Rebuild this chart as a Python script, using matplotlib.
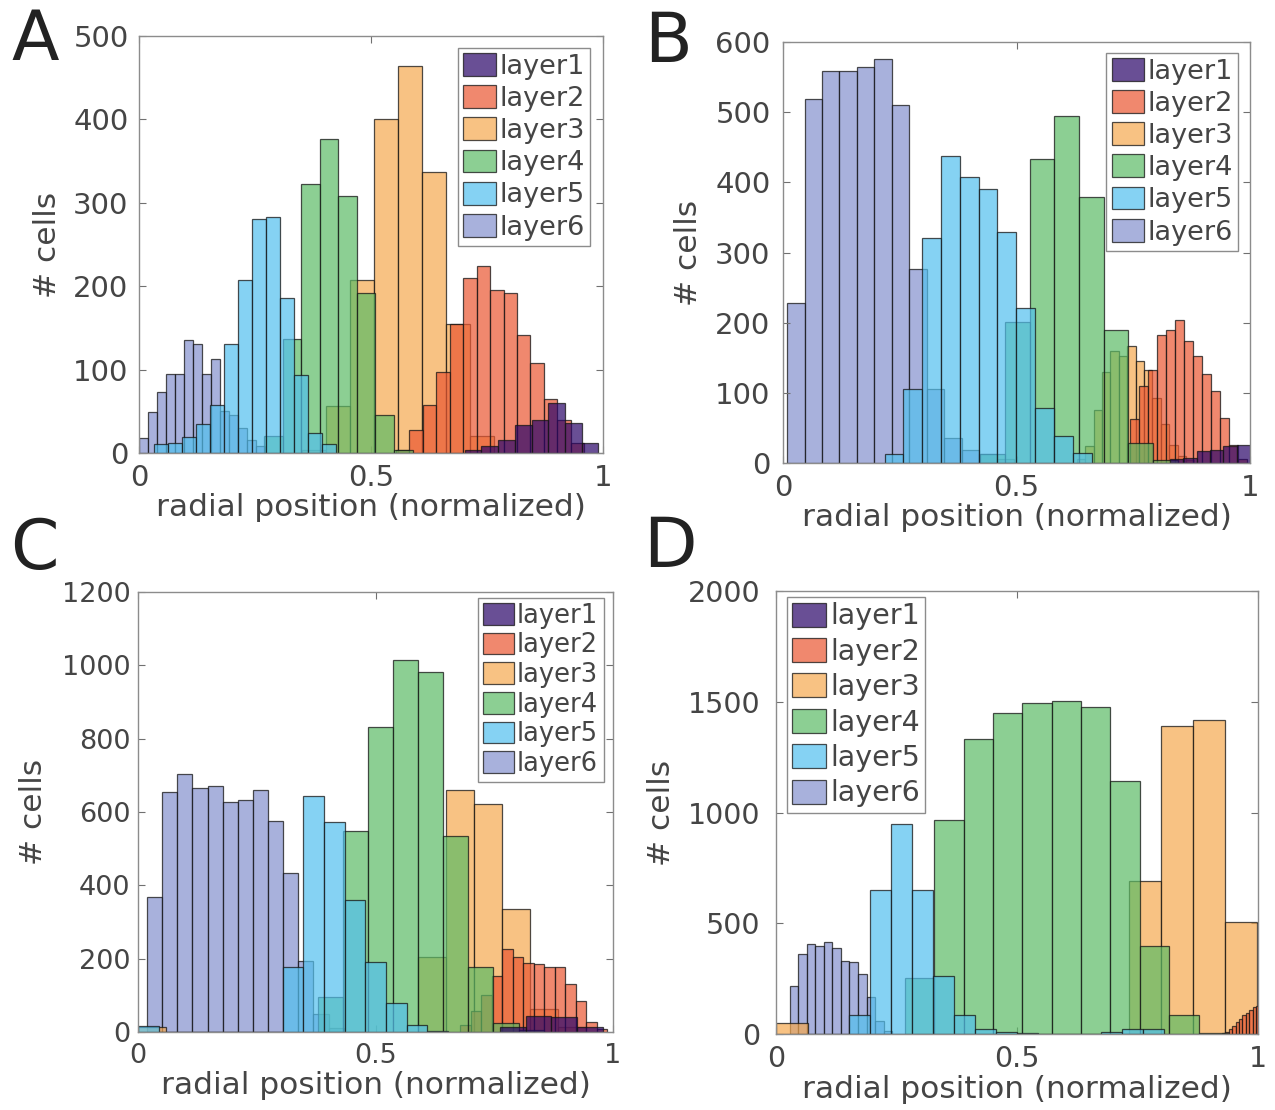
import numpy as np
import matplotlib
matplotlib.use("Agg")
import matplotlib.pyplot as plt
from matplotlib.patches import Patch

layers = ["layer1", "layer2", "layer3", "layer4", "layer5", "layer6"]
face_colors = ["#2a0469", "#ea5631", "#f6a84e", "#5bbb65", "#52c0ee", "#8491ce"]
# stacking order of the layers (higher = drawn on top)
layer_z = [6, 3, 2, 4, 5, 1]

# ---------------- Panel A ----------------
A_L1 = [4, 8, 15, 34, 39, 60, 36, 12]
A_L2 = [3, 27, 58, 97, 155, 210, 224, 195, 192, 142, 108, 65, 40, 12]
A_L3 = [3, 56, 207, 401, 464, 337, 155, 20]
A_L4 = [20, 137, 322, 377, 308, 192, 46, 3]
A_L5 = [11, 12, 19, 35, 58, 131, 207, 281, 283, 186, 94, 24, 11]
A_L6 = [18, 49, 73, 95, 95, 135, 131, 95, 113, 50, 45, 30, 15, 8]
A_start = [0.702, 0.5536, 0.3508, 0.2696, 0.0316, 0.0]
A_width = [0.036, 0.029, 0.0518, 0.040, 0.0302, 0.0194]

# ---------------- Panel B ----------------
B_L1 = [5, 7, 17, 19, 24, 25]
B_L2 = [62, 110, 133, 183, 190, 204, 174, 153, 127, 102, 64, 26, 5]
B_L3 = [5, 24, 76, 129, 160, 152, 167, 146, 133, 93, 55, 25, 10, 4]
B_L4 = [13, 201, 433, 495, 379, 190, 29, 4]
B_L5 = [13, 105, 321, 438, 408, 390, 329, 221, 79, 38, 14]
B_L6 = [228, 519, 559, 559, 564, 576, 510, 276, 105, 36, 19, 13, 5]
B_start = [0.829, 0.743, 0.629, 0.4229, 0.2175, 0.0086]
B_width = [0.0285, 0.0193, 0.018, 0.0528, 0.0403, 0.03745]

# ---------------- Panel C ----------------
C_L1 = [15, 45, 41, 14]
C_L2 = [18, 56, 100, 154, 226, 204, 187, 186, 176, 176, 131, 84, 27, 9]
C_L3 = [15, 0, 0, 0, 0, 0, 0, 0, 0, 0, 204, 661, 622, 335, 63, 15]
C_L4 = [95, 547, 831, 1014, 982, 534, 176, 25, 5]
C_L5 = [16, 0, 0, 0, 0, 0, 0, 176, 643, 573, 360, 192, 79, 18, 3]
C_L6 = [367, 654, 704, 665, 671, 627, 633, 661, 575, 433, 195, 50, 10]
C_start = [0.7625, 0.678, 0.0, 0.3795, 0.0, 0.019]
C_width = [0.054, 0.0221, 0.059, 0.0527, 0.0435, 0.03184]

# ---------------- Panel D ----------------
D_L1 = []
D_L2 = [4, 10, 22, 38, 55, 68, 84, 97, 110, 121, 128]
D_L3 = [50, 0, 0, 0, 0, 0, 0, 0, 0, 0, 0, 690, 1389, 1417, 505]
D_L4 = [255, 968, 1332, 1451, 1496, 1503, 1476, 1144, 397, 85, 6]
D_L5 = [85, 649, 950, 649, 263, 85, 21, 7, 3, 0, 0, 0, 8, 21, 21]
D_L6 = [218, 362, 407, 397, 416, 389, 330, 325, 270, 166, 60, 15]
D_start = [0.93, 0.9246, 0.0, 0.2676, 0.1515, 0.029]
D_width = [0.007, 0.0072, 0.0665, 0.0609, 0.0436, 0.01764]

y_limits = [500, 600, 1200, 2000]
y_ticks = [[0, 100, 200, 300, 400, 500],
           [0, 100, 200, 300, 400, 500, 600],
           [0, 200, 400, 600, 800, 1000, 1200],
           [0, 500, 1000, 1500, 2000]]
x_ticks = [0, 0.5, 1]
x_ticklabels = ["0", "0.5", "1"]
panel_letters = ["A", "B", "C", "D"]

panels = [
    ([A_L1, A_L2, A_L3, A_L4, A_L5, A_L6], A_start, A_width),
    ([B_L1, B_L2, B_L3, B_L4, B_L5, B_L6], B_start, B_width),
    ([C_L1, C_L2, C_L3, C_L4, C_L5, C_L6], C_start, C_width),
    ([D_L1, D_L2, D_L3, D_L4, D_L5, D_L6], D_start, D_width),
]

# layout
W, H = 1275, 1110
axes_px = [(139, 36, 603, 453), (783, 42, 1250, 463), (138, 592, 613, 1032), (776, 591, 1258, 1034)]
legend_anchor = [("upper right", (0.972, 0.972)), ("upper right", (0.975, 0.975)),
                 ("upper right", (0.98, 0.987)), ("upper left", (0.022, 0.987))]
legend_font = [19.5, 19.5, 18.5, 20.5]
legend_spacing = [0.2, 0.2, 0.14, 0.26]
tick_font = [21, 21, 19.5, 20.5]
ytick_pad = [7.5, 9, 5.5, 11]
ylabel_pad = [8, 9, 10, 9]
letter_pos = [(35, 40), (668, 42), (34, 550), (670, 547)]

fig = plt.figure(figsize=(W / 100, H / 100), dpi=100)
FACE_ALPHA = 0.7
edge_rgba = (0.08, 0.08, 0.08, 0.75)
text_col = "#454545"

for i, (counts_list, starts, widths) in enumerate(panels):
    l, t, r, b = axes_px[i]
    ax = fig.add_axes([l / W, 1 - b / H, (r - l) / W, (b - t) / H])
    for k in range(len(counts_list)):
        counts = np.asarray(counts_list[k], dtype=float)
        if counts.size == 0:
            continue
        lefts = starts[k] + widths[k] * np.arange(counts.size)
        col = matplotlib.colors.to_rgba(face_colors[k], FACE_ALPHA)
        ax.bar(lefts, counts, width=widths[k], align="edge", color=col,
               edgecolor=edge_rgba, linewidth=0.9, zorder=layer_z[k])
    ax.set_xlim(0, 1)
    ax.set_ylim(0, y_limits[i])
    ax.set_xticks(x_ticks)
    ax.set_xticklabels(x_ticklabels)
    ax.set_yticks(y_ticks[i])
    ax.tick_params(direction="in", top=True, right=True, length=5, width=0.8,
                   color="#707070", labelsize=tick_font[i], labelcolor=text_col)
    ax.tick_params(axis="x", pad=8)
    ax.tick_params(axis="y", pad=ytick_pad[i])
    for s in ax.spines.values():
        s.set_color("#8c8c8c")
        s.set_linewidth(1.0)
        s.set_zorder(10)
    ax.set_xlabel("radial position (normalized)", fontsize=22.5, color=text_col, labelpad=1)
    ax.set_ylabel("# cells", fontsize=22.5, color=text_col, labelpad=ylabel_pad[i])

    handles = [Patch(facecolor=matplotlib.colors.to_rgba(c, FACE_ALPHA), edgecolor=edge_rgba,
                     linewidth=0.9, label=lab) for c, lab in zip(face_colors, layers)]
    loc, anchor = legend_anchor[i]
    leg = ax.legend(handles=handles, loc=loc, bbox_to_anchor=anchor, fontsize=legend_font[i],
                    frameon=True, fancybox=False, framealpha=1, edgecolor="#8c8c8c",
                    handlelength=1.2, handleheight=0.92, handletextpad=0.12,
                    labelspacing=legend_spacing[i], borderpad=0.2, borderaxespad=0.0)
    leg.set_zorder(20)
    leg.get_frame().set_linewidth(1.0)
    for txt in leg.get_texts():
        txt.set_color(text_col)

    lx, ly = letter_pos[i]
    fig.text(lx / W, 1 - ly / H, panel_letters[i], fontsize=50, color="#222222",
             ha="center", va="center")

fig.savefig("out.png", dpi=100)
